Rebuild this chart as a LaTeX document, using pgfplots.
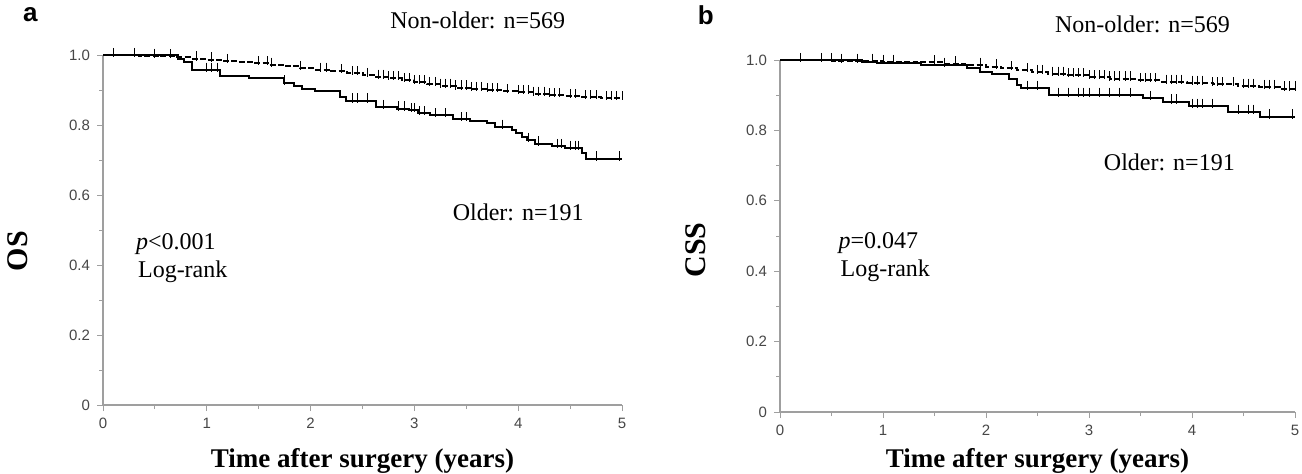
\documentclass[border=0pt]{standalone}
\usepackage{fontspec}
\setmainfont{Liberation Serif}
\newfontfamily\sansf{Liberation Sans}
\usepackage{pgfplots}
\usepackage{pgfplotstable}
\pgfplotsset{compat=1.18}

% Kaplan-Meier steps (time in years, survival)
\pgfplotstableread{
t S
0 1.000
0.35 0.998
0.55 0.996
0.70 0.993
0.85 0.990
1.00 0.987
1.15 0.983
1.30 0.980
1.45 0.976
1.60 0.972
1.75 0.968
1.90 0.963
2.05 0.958
2.20 0.953
2.35 0.948
2.50 0.943
2.62 0.938
2.75 0.933
2.88 0.928
3.00 0.922
3.12 0.917
3.25 0.912
3.40 0.907
3.55 0.903
3.70 0.899
3.85 0.896
4.00 0.893
4.15 0.889
4.30 0.885
4.45 0.882
4.60 0.879
4.80 0.876
5.00 0.876
}\osyoung
\pgfplotstableread{
t S
0.1 1.000
0.3 1.000
0.5 0.998
0.65 0.996
0.9 0.990
1.05 0.987
1.2 0.983
1.5 0.976
1.58 0.976
1.62 0.972
1.9 0.963
2.1 0.958
2.15 0.958
2.3 0.953
2.4 0.948
2.45 0.948
2.55 0.943
2.65 0.938
2.7 0.938
2.75 0.933
2.8 0.933
2.85 0.933
2.9 0.928
2.95 0.928
3.0 0.922
3.05 0.922
3.1 0.922
3.15 0.917
3.2 0.917
3.25 0.912
3.3 0.912
3.35 0.912
3.4 0.907
3.45 0.907
3.5 0.907
3.55 0.903
3.6 0.903
3.65 0.903
3.7 0.899
3.75 0.899
3.8 0.899
3.9 0.896
4.0 0.893
4.05 0.893
4.1 0.893
4.15 0.889
4.2 0.889
4.25 0.889
4.3 0.885
4.35 0.885
4.4 0.885
4.5 0.882
4.55 0.882
4.65 0.879
4.7 0.879
4.75 0.879
4.85 0.876
4.9 0.876
4.95 0.876
5.0 0.876
}\osyoungcens
\pgfplotstableread{
t S
0 1.000
0.72 0.990
0.78 0.979
0.86 0.958
1.13 0.940
1.41 0.933
1.74 0.921
1.84 0.912
1.92 0.902
2.04 0.896
2.28 0.879
2.34 0.870
2.63 0.851
2.83 0.847
2.95 0.842
3.03 0.833
3.15 0.828
3.37 0.816
3.54 0.812
3.70 0.805
3.78 0.795
3.94 0.786
3.98 0.777
4.04 0.767
4.08 0.758
4.16 0.747
4.33 0.740
4.45 0.735
4.61 0.721
4.65 0.704
5.00 0.704
}\osold
\pgfplotstableread{
t S
1.0 0.958
1.05 0.958
1.1 0.958
1.75 0.921
2.4 0.870
2.45 0.870
2.55 0.870
2.7 0.851
2.85 0.847
2.9 0.847
2.97 0.842
3.0 0.842
3.05 0.833
3.1 0.833
3.2 0.828
3.3 0.828
3.45 0.816
3.5 0.816
3.85 0.795
4.1 0.758
4.2 0.747
4.38 0.740
4.42 0.740
4.5 0.735
4.55 0.735
4.58 0.735
4.75 0.704
4.98 0.704
}\osoldcens
\pgfplotstableread{
t S
0 1.000
0.5 0.998
1.0 0.995
1.3 0.993
1.6 0.990
1.8 0.986
2.0 0.981
2.15 0.976
2.3 0.971
2.45 0.966
2.6 0.961
2.8 0.956
3.0 0.951
3.2 0.947
3.45 0.942
3.7 0.938
3.95 0.935
4.2 0.931
4.45 0.927
4.65 0.923
4.85 0.919
5.0 0.919
}\cssyoung
\pgfplotstableread{
t S
0.2 1.000
0.4 1.000
0.6 0.998
0.75 0.998
0.9 0.998
1.1 0.995
1.5 0.993
1.7 0.990
1.95 0.986
2.1 0.981
2.25 0.976
2.4 0.971
2.5 0.966
2.55 0.966
2.65 0.961
2.7 0.961
2.75 0.961
2.8 0.956
2.85 0.956
2.9 0.956
2.95 0.956
3.0 0.951
3.05 0.951
3.1 0.951
3.15 0.951
3.2 0.947
3.25 0.947
3.3 0.947
3.35 0.947
3.4 0.947
3.5 0.942
3.55 0.942
3.6 0.942
3.65 0.942
3.75 0.938
3.8 0.938
3.85 0.938
3.9 0.938
4.0 0.935
4.05 0.935
4.1 0.935
4.2 0.931
4.25 0.931
4.3 0.931
4.4 0.931
4.5 0.927
4.55 0.927
4.6 0.927
4.7 0.923
4.75 0.923
4.8 0.923
4.9 0.919
4.95 0.919
5.0 0.919
}\cssyoungcens
\pgfplotstableread{
t S
0 1.000
0.80 0.995
0.94 0.991
1.37 0.986
1.82 0.976
1.94 0.967
2.06 0.959
2.22 0.945
2.30 0.928
2.34 0.921
2.61 0.901
3.52 0.892
3.72 0.882
3.97 0.870
4.35 0.853
4.66 0.839
5.00 0.839
}\cssold
\pgfplotstableread{
t S
0.5 1.000
1.0 0.995
1.6 0.986
2.4 0.921
2.5 0.921
2.7 0.901
2.8 0.901
2.9 0.901
2.95 0.901
3.0 0.901
3.1 0.901
3.2 0.901
3.3 0.901
3.4 0.901
3.6 0.892
3.8 0.882
3.85 0.882
4.0 0.870
4.05 0.870
4.1 0.870
4.2 0.870
4.45 0.853
4.55 0.853
4.6 0.853
4.75 0.839
4.98 0.839
}\cssoldcens

\pgfplotsset{
  kmaxis/.style={
    scale only axis, axis lines=left,
    axis line style={gray!75, line width=0.6pt, -},
    xmin=0, xmax=5, ymin=0, ymax=1,
    xtick={0,1,2,3,4,5}, xticklabels={0,1,2,3,4,5},
    minor xtick={0.5,1.5,2.5,3.5,4.5},
    ytick={0,0.2,0.4,0.6,0.8,1}, yticklabels={0,0.2,0.4,0.6,0.8,1.0},
    minor ytick={0.1,0.3,0.5,0.7,0.9},
    tick align=outside, major tick length=3pt, minor tick length=2pt,
    tick style={gray!75, line width=0.5pt},
    tick label style={font=\sansf\fontsize{7.5}{8}\selectfont, text=gray!55!black},
    xlabel style={font=\bfseries\fontsize{13.5}{15}\selectfont, anchor=center},
    ylabel style={anchor=center, font=\bfseries\fontsize{15}{17}\selectfont},
    clip=false,
  },
  km/.style={black, line width=1pt, const plot, no marks},
  cens/.style={black, only marks, mark=|, mark size=2.3pt,
    mark options={line width=0.5pt, yshift=1.3pt}},
}
\tikzset{lbl/.style={font=\fontsize{12}{14}\selectfont}}

\begin{document}
\begin{tikzpicture}
\useasboundingbox (0,0) rectangle (651pt,236.5pt);

% panel a: overall survival
\begin{axis}[kmaxis, at={(51.5pt,34pt)}, anchor=south west,
  width=259.5pt, height=175pt,
  xlabel={Time after surgery (years)}, ylabel={OS},
  xlabel style={at={(axis description cs:0.5,-0.16)}},
  ylabel style={at={(axis description cs:-0.164,0.44)}}]
\addplot[km, dash pattern=on 3pt off 1.2pt] table[x=t, y=S] {\osyoung};
\addplot[cens] table[x=t, y=S] {\osyoungcens};
\addplot[km] table[x=t, y=S] {\osold};
\addplot[cens] table[x=t, y=S] {\osoldcens};
\node[lbl] at (axis cs:3.61,1.10) {Non-older: n=569};
\node[lbl] at (axis cs:4.0,0.55) {Older: n=191};
\node[lbl, anchor=west] at (axis cs:0.25,0.46) {\textit{p}<0.001};
\node[lbl, anchor=west] at (axis cs:0.27,0.38) {Log-rank};
\node[font=\sansf\bfseries\fontsize{13}{13}\selectfont] at (axis description cs:-0.14,1.115) {a};
\end{axis}

% panel b: cancer-specific survival
\begin{axis}[kmaxis, at={(390pt,30.5pt)}, anchor=south west,
  width=257.5pt, height=176pt,
  xlabel={Time after surgery (years)}, ylabel={CSS},
  xlabel style={at={(axis description cs:0.5,-0.138)}},
  ylabel style={at={(axis description cs:-0.163,0.46)}}]
\addplot[km, dash pattern=on 3pt off 1.2pt] table[x=t, y=S] {\cssyoung};
\addplot[cens] table[x=t, y=S] {\cssyoungcens};
\addplot[km] table[x=t, y=S] {\cssold};
\addplot[cens] table[x=t, y=S] {\cssoldcens};
\node[lbl] at (axis cs:3.52,1.10) {Non-older: n=569};
\node[lbl] at (axis cs:3.78,0.71) {Older: n=191};
\node[lbl, anchor=west] at (axis cs:0.5,0.48) {\textit{p}=0.047};
\node[lbl, anchor=west] at (axis cs:0.52,0.40) {Log-rank};
\node[font=\sansf\bfseries\fontsize{13}{13}\selectfont] at (axis description cs:-0.144,1.128) {b};
\end{axis}
\end{tikzpicture}
\end{document}
